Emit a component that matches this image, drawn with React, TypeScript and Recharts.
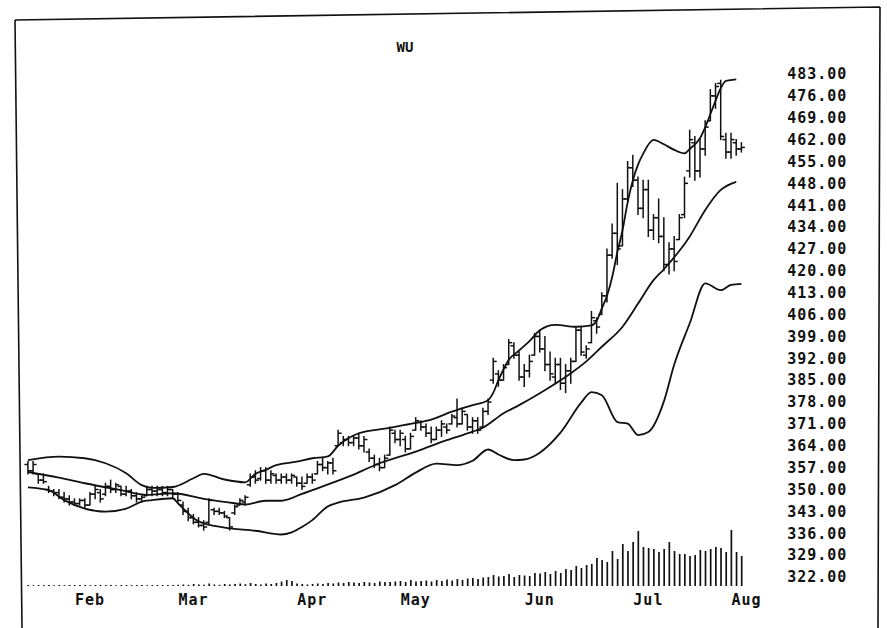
import React from 'react'
import { ComposedChart, Bar, Line, XAxis, YAxis } from 'recharts'

// month labels and the day index where each one sits
const months = ['Feb', 'Mar', 'Apr', 'May', 'Jun', 'Jul', 'Aug']
const monthStart = [12, 32, 55, 75, 99, 120, 139]

const priceTicks = [
  322, 329, 336, 343, 350, 357, 364, 371, 378, 385, 392, 399,
  406, 413, 420, 427, 434, 441, 448, 455, 462, 469, 476, 483,
]

// daily bars, one entry per trading day
const highs = [
  359, 359, 355, 355, 351, 350, 350, 349, 348, 347,
  347, 347, 349, 351, 350, 352, 353, 352, 351, 351,
  350, 349, 348, 351, 351, 351, 351, 351, 350, 349,
  346, 344, 342, 341, 340, 347, 344, 344, 343, 341,
  345, 347, 348, 355, 356, 357, 357, 356, 355, 355,
  355, 355, 354, 354, 355, 355, 359, 360, 359, 360,
  369, 367, 367, 367, 368, 367, 363, 361, 360, 361,
  370, 369, 369, 367, 368, 373, 372, 371, 370, 370,
  372, 371, 374, 379, 376, 374, 373, 373, 376, 379,
  392, 388, 390, 398, 397, 394, 390, 393, 400, 401,
  399, 394, 392, 392, 390, 392, 402, 402, 396, 407,
  405, 413, 427, 435, 448, 446, 455, 457, 450, 449,
  449, 438, 443, 437, 429, 431, 438, 450, 465, 463,
  462, 468, 478, 480, 481, 464, 464, 462, 461,
]
const lows = [
  355, 355, 352, 352, 349, 348, 347, 346, 345, 345,
  345, 344, 345, 347, 346, 348, 349, 349, 348, 348,
  347, 346, 346, 348, 348, 348, 348, 348, 347, 346,
  342, 340, 339, 338, 337, 339, 342, 342, 341, 337,
  342, 345, 345, 351, 352, 353, 352, 352, 352, 352,
  352, 352, 351, 350, 352, 352, 355, 356, 355, 355,
  364, 364, 364, 364, 363, 362, 359, 357, 356, 357,
  361, 365, 364, 362, 363, 369, 369, 367, 365, 366,
  367, 368, 371, 370, 371, 369, 368, 368, 370, 374,
  384, 383, 385, 390, 392, 385, 383, 386, 393, 394,
  388, 385, 384, 382, 381, 384, 391, 393, 392, 397,
  400, 406, 410, 424, 422, 428, 442, 447, 438, 437,
  431, 430, 429, 420, 419, 420, 430, 437, 450, 449,
  450, 457, 468, 472, 462, 456, 456, 457, 458,
]
const opens = [
  358, 356, 355, 353, 350, 349.5, 349, 347.5, 347, 346,
  345.5, 346.5, 345, 348.5, 349, 348.5, 351, 350, 351, 348.5,
  349.5, 348, 347, 348, 350, 349.5, 350, 349, 350, 348.5,
  345, 343, 341, 339.5, 338.5, 339.5, 343.5, 343, 342.5, 341,
  342.5, 345, 346, 351.5, 354, 353.5, 356, 353, 354.5, 353,
  354, 353, 354, 352, 352, 354, 355, 358, 357, 358.5,
  364, 365, 366, 365, 366.5, 364, 362, 360, 358, 357,
  361, 368, 366, 366, 363, 369, 371.5, 370, 368, 366,
  369, 370, 371, 373, 371, 374, 370, 372, 370, 375,
  385, 387, 385, 390, 396, 393, 386, 388, 393, 399,
  395, 390, 386, 390, 384, 388, 391, 401, 393, 397,
  404, 406, 412, 425, 432, 428, 443, 453, 449, 440,
  446, 433, 437, 431, 422, 427, 430, 438, 452, 461,
  452, 459, 468, 476, 480, 462, 458, 461, 459,
]
const closes = [
  356, 358, 353, 352.5, 349.5, 349, 347.5, 347, 346, 345.5,
  346.5, 345, 348.5, 350, 347, 351, 350, 351.5, 348.5, 349.5,
  348, 347, 347.5, 350, 349.5, 350, 349, 350, 348.5, 346.5,
  343, 341, 339.5, 338.5, 338, 346.5, 343, 342.5, 341.5, 338,
  344.5, 346.5, 347.5, 354, 353, 356, 353, 355, 353, 354,
  353, 354.5, 352, 351, 354, 353, 358, 357, 358.5, 356,
  368, 366, 365, 366.5, 364, 366, 360, 358, 357, 360,
  369, 366, 368, 363, 367, 372, 370, 368, 366, 369,
  371, 369, 373.5, 371, 375, 370, 372, 369, 375, 378,
  391, 385, 389, 397, 393, 386, 388, 391, 399, 395,
  390, 387, 390, 384, 388, 391, 401, 394, 395, 405,
  402, 412, 425, 432, 427, 443, 453, 449, 440, 446,
  433, 437, 431, 422, 427, 423, 437, 448, 462, 452,
  459, 466, 476, 479, 463, 458, 462, 459, 459.5,
]
const volumes = [
  10, 8, 10, 9, 10, 8, 10, 9, 10, 10,
  9, 10, 8, 10, 10, 9, 10, 8, 10, 10,
  9, 10, 10, 8, 10, 10, 9, 10, 10, 12,
  15, 12, 20, 15, 12, 25, 15, 12, 20, 15,
  20, 25, 18, 30, 20, 15, 25, 20, 30, 45,
  60, 50, 25, 20, 15, 20, 25, 20, 30, 25,
  35, 30, 40, 35, 30, 40, 35, 30, 45, 40,
  40, 45, 50, 40, 60, 45, 50, 55, 45, 60,
  50, 65, 55, 70, 60, 75, 80, 70, 85, 90,
  110, 95, 100, 120, 90, 110, 105, 100, 130, 125,
  140, 120, 150, 130, 170, 160, 200, 180, 210, 220,
  280, 260, 240, 350, 270, 420, 350, 440, 550, 390,
  380, 370, 340, 370, 440, 350, 320, 320, 300, 310,
  360, 350, 370, 390, 380, 340, 560, 340, 300,
]

// band readings: [day index, price]
const upperBand = [
  [0, 359.4], [6, 360.5], [11, 360], [15, 358.4], [19, 355.2], [22, 351.4],
  [24, 350.5], [28, 350.8], [32, 353.6], [34, 355], [38, 353.2], [42, 352.3],
  [44, 355], [46, 356.3], [48, 357.8], [52, 358.9], [55, 360], [58, 360.6],
  [60, 364], [64, 368], [69, 369.5], [74, 371], [78, 372.4], [82, 374.9],
  [86, 377], [89, 378.6], [90, 381], [91, 385], [92, 388.5], [93, 391.5],
  [95, 394.5], [97, 397.5], [99, 401], [102, 402.7], [106, 402.1], [109, 402.5],
  [110, 404], [111, 408], [112, 412], [113, 418], [114, 426], [115, 433],
  [116, 442], [117, 449], [118, 454], [119, 457.5], [121, 461.9], [123, 460.5],
  [125, 458.7], [127, 457.6], [128, 459], [130, 462.5], [131, 466], [133, 474.5],
  [134, 478.5], [135, 480.8], [137, 481.3],
]
const middleBand = [
  [0, 355.6], [6, 353.8], [11, 352], [18, 349.8], [23, 348.3], [28, 348.8],
  [34, 347], [40, 345.6], [42, 345.2], [46, 346.4], [49, 346.4], [53, 348.6],
  [55, 349.8], [62, 354.1], [68, 358.4], [75, 362.1], [81, 365.8], [86, 368.5],
  [88, 369.8], [92, 374.4], [95, 377], [99, 380.8], [105, 387.2], [108, 391],
  [111, 395.7], [115, 402.1], [118, 409.5], [121, 417], [123, 420.5], [128, 431],
  [131, 439.5], [134, 445.9], [137, 448.5],
]
const lowerBand = [
  [0, 350.7], [4, 349.8], [7, 346.6], [11, 343.9], [15, 342.9], [19, 343.9],
  [22, 346.1], [24, 346.6], [28, 347.2], [29, 345.6], [33, 339.8], [38, 337.8],
  [44, 336.8], [49, 335.6], [51, 336.3], [53, 338], [55, 340.2], [58, 344.6],
  [60, 345.8], [65, 347.4], [71, 351.4], [75, 355.4], [79, 358.3], [83, 357.8],
  [86, 359.2], [89, 362.8], [91, 361.2], [94, 359.4], [96, 359.6], [99, 361.8],
  [103, 368.2], [107, 377.8], [109, 381.2], [111, 380.2], [114, 371.6], [116, 371.1],
  [118, 367.4], [120, 368.4], [123, 378.2], [125, 390], [128, 403.2], [131, 416],
  [134, 413.8], [136, 415.5], [138, 415.8],
]

const DAYS = 140
const W = 887
const H = 628
const margin = { top: 60, right: 0, bottom: 0, left: 25.4 }
const AXIS_W = 137.8
const AXIS_H = 38
const font = "'DejaVu Sans Mono', monospace"
const ink = '#111'

const rows = Array.from({ length: DAYS }, (_, i) => ({
  idx: i,
  high: highs[i] ?? null,
  low: lows[i] ?? null,
  open: opens[i] ?? null,
  close: closes[i] ?? null,
  volume: volumes[i] ?? null,
  upper: null as number | null,
  middle: null as number | null,
  lower: null as number | null,
}))
upperBand.forEach(([d, v]) => (rows[d].upper = v))
middleBand.forEach(([d, v]) => (rows[d].middle = v))
lowerBand.forEach(([d, v]) => (rows[d].lower = v))

function OhlcBar(props: any) {
  const { x, y, width, height, payload } = props
  if (!payload || payload.high == null) return <g />
  const top = Math.min(y, y + height)
  const h = Math.abs(height)
  const cx = x + width / 2
  const span = payload.high - payload.low || 1
  const yo = top + ((payload.high - payload.open) / span) * h
  const yc = top + ((payload.high - payload.close) / span) * h
  return (
    <g stroke={ink} strokeWidth={1.5}>
      <line x1={cx} x2={cx} y1={top - 0.5} y2={top + h + 0.5} />
      <line x1={cx - 3.5} x2={cx} y1={yo} y2={yo} />
      <line x1={cx} x2={cx + 3.5} y1={yc} y2={yc} />
    </g>
  )
}

function MonthTick(props: any) {
  const { x, y, payload } = props
  const k = monthStart.indexOf(Number(payload.value))
  if (k < 0) return <g />
  return (
    <text x={x} y={y + 15} textAnchor="middle" fill={ink}
      style={{ fontFamily: font, fontWeight: 700, fontSize: 15, letterSpacing: 1 }}>
      {months[k]}
    </text>
  )
}

export default function App() {
  return (
    <div style={{ position: 'absolute', left: 0, top: 0, width: W, height: H, background: '#fff' }}>
      {/* volume underneath */}
      <div style={{ position: 'absolute', left: 0, top: 0 }}>
        <ComposedChart width={W} height={H} data={rows}
          margin={{ ...margin, right: AXIS_W, bottom: AXIS_H }}>
          <XAxis dataKey="idx" type="category" hide />
          <YAxis yAxisId="vol" domain={[-40, 5260]} hide />
          <Bar yAxisId="vol" dataKey="volume" fill={ink} barSize={1.7} isAnimationActive={false} />
        </ComposedChart>
      </div>

      {/* price bars and bands */}
      <div style={{ position: 'absolute', left: 0, top: 0 }}>
        <ComposedChart width={W} height={H} data={rows} margin={margin}>
          <XAxis dataKey="idx" type="category" interval={0} height={AXIS_H}
            tick={<MonthTick />} tickLine={false} axisLine={false} tickSize={0} tickMargin={0} />
          <YAxis yAxisId="price" orientation="right" width={AXIS_W}
            domain={[317.83, 487.48]} ticks={priceTicks} interval={0}
            tickFormatter={(v: number) => v.toFixed(2)}
            tickLine={false} axisLine={false} tickSize={0} tickMargin={38}
            tick={{ fill: ink, fontFamily: font, fontWeight: 700, fontSize: 15, letterSpacing: 1 }} />
          <Bar yAxisId="price" dataKey={(d: any) => (d.high == null ? null : [d.low, d.high])}
            shape={(p: any) => <OhlcBar {...p} />} isAnimationActive={false} />
          <Line yAxisId="price" dataKey="upper" type="monotone" connectNulls dot={false} activeDot={false}
            stroke={ink} strokeWidth={1.8} isAnimationActive={false} />
          <Line yAxisId="price" dataKey="middle" type="monotone" connectNulls dot={false} activeDot={false}
            stroke={ink} strokeWidth={1.8} isAnimationActive={false} />
          <Line yAxisId="price" dataKey="lower" type="monotone" connectNulls dot={false} activeDot={false}
            stroke={ink} strokeWidth={1.8} isAnimationActive={false} />
        </ComposedChart>
      </div>

      {/* frame and title */}
      <svg width={W} height={H} style={{ position: 'absolute', left: 0, top: 0 }}>
        <path d="M 15 20 L 880 7 M 15 20 L 22 628 M 880 7 L 878 628"
          stroke={ink} strokeWidth={1.6} fill="none" />
        <text x={405} y={52} textAnchor="middle" fill={ink}
          style={{ fontFamily: font, fontWeight: 700, fontSize: 14 }}>WU</text>
      </svg>
    </div>
  )
}
